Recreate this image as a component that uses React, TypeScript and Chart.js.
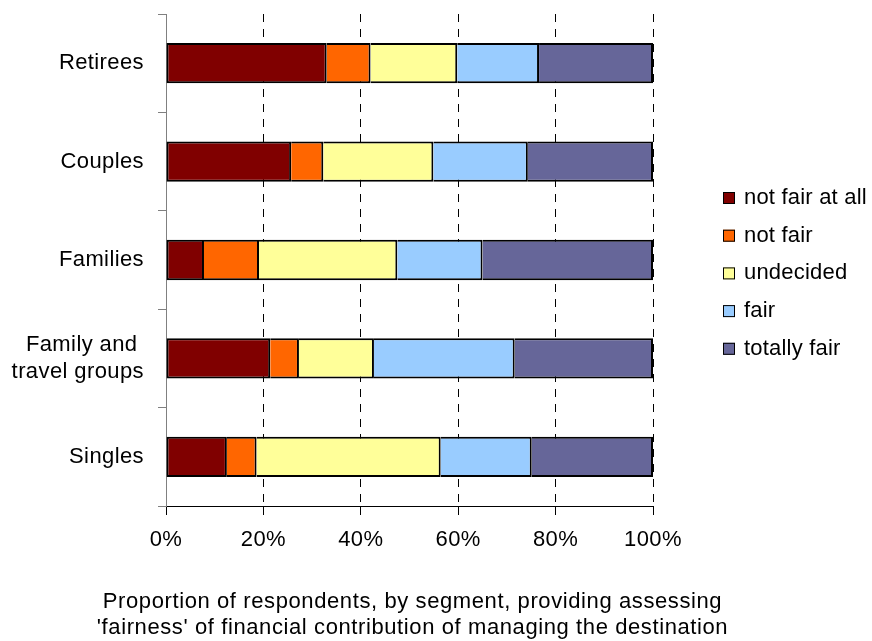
import React, { useEffect, useRef } from "react";
import { Chart, registerables } from "chart.js";

Chart.register(...registerables);

// Segments (y axis, top to bottom)
const segments: (string | string[])[] = [
  "Retirees",
  "Couples",
  "Families",
  ["Family and ", "travel groups"],
  "Singles",
];

// Share of respondents per answer, in percent of each segment
const notFairAtAll = [33.0, 25.7, 7.8, 21.4, 12.5];
const notFair = [9.0, 6.6, 11.3, 5.9, 6.1];
const undecided = [17.8, 22.6, 28.4, 15.4, 37.8];
const fair = [16.8, 19.4, 17.5, 28.9, 18.7];
const totallyFair = [23.4, 25.7, 35.0, 28.4, 24.9];

const answerLabels = ["not fair at all", "not fair", "undecided", "fair", "totally fair"];
const answerColors = ["#800000", "#FF6600", "#FFFF99", "#99CCFF", "#666699"];

const xTickValues = [0, 20, 40, 60, 80, 100];

const axisTitle = [
  "Proportion of respondents, by segment, providing assessing",
  "'fairness' of financial contribution of managing the destination",
];

const FONT_FAMILY = '"Liberation Sans", Arial, Helvetica, sans-serif';

// Slightly looser tracking for all chart text
const textTracking = {
  id: "textTracking",
  beforeDraw(chart: any) {
    chart.ctx.letterSpacing = "0.4px";
  },
};

// Legend drawn to the right of the plot, from the dataset labels and colours
const sideLegend = {
  id: "sideLegend",
  afterDraw(chart: any) {
    const { ctx, chartArea } = chart;
    const boxX = chartArea.right + 70;
    const firstY = 198;
    const step = 37.7;
    ctx.save();
    ctx.letterSpacing = "0.2px";
    ctx.font = `22px ${FONT_FAMILY}`;
    ctx.textBaseline = "middle";
    ctx.textAlign = "left";
    chart.data.datasets.forEach((ds: any, i: number) => {
      const cy = firstY + i * step;
      ctx.fillStyle = ds.backgroundColor;
      ctx.fillRect(boxX, cy - 6, 12, 12);
      ctx.strokeStyle = "#000";
      ctx.lineWidth = 1;
      ctx.strokeRect(boxX + 0.5, cy - 5.5, 11, 11);
      ctx.fillStyle = "#000";
      ctx.fillText(ds.label, boxX + 21, cy);
    });
    ctx.restore();
  },
};

// Two-line caption under the x axis, drawn at its natural width
const bottomCaption = {
  id: "bottomCaption",
  afterDraw(chart: any) {
    const { ctx, chartArea } = chart;
    const cx = (chartArea.left + chartArea.right) / 2 + 3;
    ctx.save();
    ctx.letterSpacing = "0.6px";
    ctx.font = `22px ${FONT_FAMILY}`;
    ctx.textBaseline = "middle";
    ctx.textAlign = "center";
    ctx.fillStyle = "#000";
    axisTitle.forEach((line, i) => {
      ctx.fillText(line, cx, chartArea.bottom + 96 + i * 26.4);
    });
    ctx.restore();
  },
};

export default function App() {
  const canvasRef = useRef<HTMLCanvasElement | null>(null);

  useEffect(() => {
    if (!canvasRef.current) return;
    const series = [notFairAtAll, notFair, undecided, fair, totallyFair];
    const chart = new Chart(canvasRef.current, {
      type: "bar",
      data: {
        labels: segments,
        datasets: series.map((values, i) => ({
          label: answerLabels[i],
          data: values,
          backgroundColor: answerColors[i],
          borderColor: "#000",
          borderWidth: 2,
          borderSkipped: i === 0 ? false : "start",
          barPercentage: 0.41,
          categoryPercentage: 1,
        })),
      },
      options: {
        indexAxis: "y",
        responsive: false,
        animation: false,
        layout: { padding: { top: 14, right: 219, left: 0, bottom: 0 } },
        plugins: {
          legend: { display: false },
          tooltip: { enabled: false },
        },
        scales: {
          x: {
            stacked: true,
            min: 0,
            max: 100,
            afterBuildTicks: (scale: any) => {
              scale.ticks = xTickValues.map((v) => ({ value: v }));
            },
            afterFit: (scale: any) => {
              scale.height = 135;
            },
            ticks: {
              callback: (v: any) => `${v}%`,
              color: "#000",
              padding: 12,
              font: { family: FONT_FAMILY, size: 22 },
              maxRotation: 0,
            },
            grid: {
              color: (c: any) => (c.index === 0 ? "rgba(0,0,0,0)" : "#000"),
              lineWidth: 1,
              drawTicks: true,
              tickLength: 9,
              tickColor: "#000",
            },
            border: { display: true, color: "#000", width: 1, dash: [8, 7] },
          },
          y: {
            stacked: true,
            afterFit: (scale: any) => {
              scale.width = 166;
              scale.paddingTop = 0;
              scale.paddingBottom = 0;
            },
            ticks: {
              color: "#000",
              padding: 14,
              font: { family: FONT_FAMILY, size: 22, lineHeight: 1.2 },
            },
            grid: {
              drawOnChartArea: false,
              drawTicks: true,
              tickLength: 8,
              color: "#808080",
              tickColor: "#808080",
            },
            border: { display: true, color: "#808080", width: 1 },
          },
        },
      },
      plugins: [textTracking, sideLegend, bottomCaption],
    } as any);
    return () => chart.destroy();
  }, []);

  return (
    <div style={{ position: "fixed", left: 0, top: 0, width: 872, height: 641, background: "#fff" }}>
      <canvas ref={canvasRef} width={872} height={641} />
    </div>
  );
}
